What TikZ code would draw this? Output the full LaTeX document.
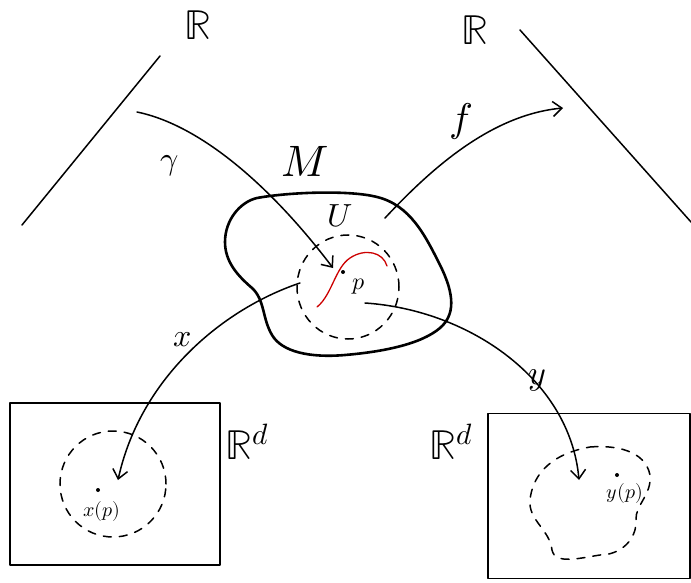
\documentclass[tikz,border=0pt]{standalone}
\usepackage{unicode-math}
\usetikzlibrary{arrows.meta}
\begin{document}
\begin{tikzpicture}[x=1pt,y=-1pt,
  ink/.style={line width=1.5pt,line cap=round,line join=round},
  thick ink/.style={line width=2.6pt,line cap=round,line join=round},
  dashink/.style={line width=1.5pt,dash pattern=on 8pt off 8pt,line cap=round},
  mapto/.style={ink,-{Straight Barb[length=9pt,width=15pt,line width=1.5pt]}},
  lab/.style={inner sep=0pt,font=\fontsize{42}{44}\selectfont},
  mid/.style={inner sep=0pt,font=\fontsize{32}{34}\selectfont},
  small/.style={inner sep=0pt,font=\fontsize{20}{22}\selectfont}]
\useasboundingbox (0,0) rectangle (691,583);
% real lines
\coordinate (l1) at (22,225); \coordinate (l2) at (160,56);
\draw[ink] (l1) -- (l2);
\node[lab] (RL) at (198,25) {$\mathbb{R}$};
\coordinate (r1) at (520,30); \coordinate (r2) at (691,222);
\draw[ink] (r1) -- (r2);
\node[lab] (RR) at (475,30) {$\mathbb{R}$};
% manifold blob
\draw[thick ink] (257,198) .. controls (290,192) and (350,190) .. (377,197)
  .. controls (410,205) and (425,235) .. (440,265)
  .. controls (455,295) and (455,315) .. (440,328)
  .. controls (420,345) and (380,352) .. (345,355)
  .. controls (310,358) and (282,352) .. (272,335)
  .. controls (262,318) and (265,300) .. (252,288)
  .. controls (238,276) and (225,262) .. (225,242)
  .. controls (225,220) and (240,202) .. (257,198) -- cycle;
\node[lab,font=\fontsize{44}{46}\selectfont] (M) at (305,161) {$M$};
\node[mid] (U) at (340,216) {$U$};
% dashed chart domain
\draw[dashink] (348,287) ellipse (51pt and 52pt);
% red curve
\draw[ink,red!80!black,line width=1.3pt] (317,307) .. controls (332,295) and (335,268) .. (350,258) .. controls (365,248) and (383,252) .. (387,266);
\fill (343,272) circle (2pt);
\coordinate (P) at (343,272);
\node[small,font=\fontsize{24}{26}\selectfont] (plab) at (359,287) {$p$};
% gamma
\coordinate (g0) at (137,112); \coordinate (g1) at (333,268);
\draw[mapto] (g0) .. controls (200,125) and (270,185) .. (g1);
\node[mid] (gam) at (170,166) {$\gamma$};
% f
\coordinate (f0) at (385,218); \coordinate (f1) at (563,108);
\draw[mapto] (f0) .. controls (430,170) and (490,115) .. (f1);
\node[lab,font=\fontsize{40}{42}\selectfont] (flab) at (461,122) {$f$};
% x chart
\coordinate (x0) at (300,283); \coordinate (x1) at (118,480);
\draw[mapto] (x0) .. controls (220,310) and (140,380) .. (x1);
\node[mid] (xlab) at (183,340) {$x$};
% y chart
\coordinate (y0) at (365,303); \coordinate (y1) at (579,480);
\draw[mapto] (y0) .. controls (470,310) and (570,380) .. (y1);
\node[mid,font=\fontsize{34}{36}\selectfont] (ylab) at (537,380) {$y$};
% left box
\node[draw,ink,minimum width=210pt,minimum height=162pt,inner sep=0pt] (BL) at (115,484) {};
\node[lab] (RdL) at (247,442) {$\mathbb{R}^d$};
\draw[dashink] (113,484) ellipse (53pt and 53pt);
\fill (98,490) circle (2pt);
\node[small] (xp) at (102,511) {$x(p)$};
% right box
\node[draw,ink,minimum width=202pt,minimum height=165pt,inner sep=0pt] (BR) at (589,496) {};
\node[lab] (RdR) at (451,442) {$\mathbb{R}^d$};
\draw[dashink] (590,447) .. controls (615,445) and (645,450) .. (650,475)
  .. controls (652,495) and (635,505) .. (636,520)
  .. controls (637,540) and (620,555) .. (600,555)
  .. controls (580,558) and (555,565) .. (552,550)
  .. controls (550,530) and (528,520) .. (530,500)
  .. controls (532,480) and (545,455) .. (590,447) -- cycle;
\fill (617,475) circle (2pt);
\node[small] (yp) at (625,493) {$y(p)$};
\end{tikzpicture}
\end{document}
